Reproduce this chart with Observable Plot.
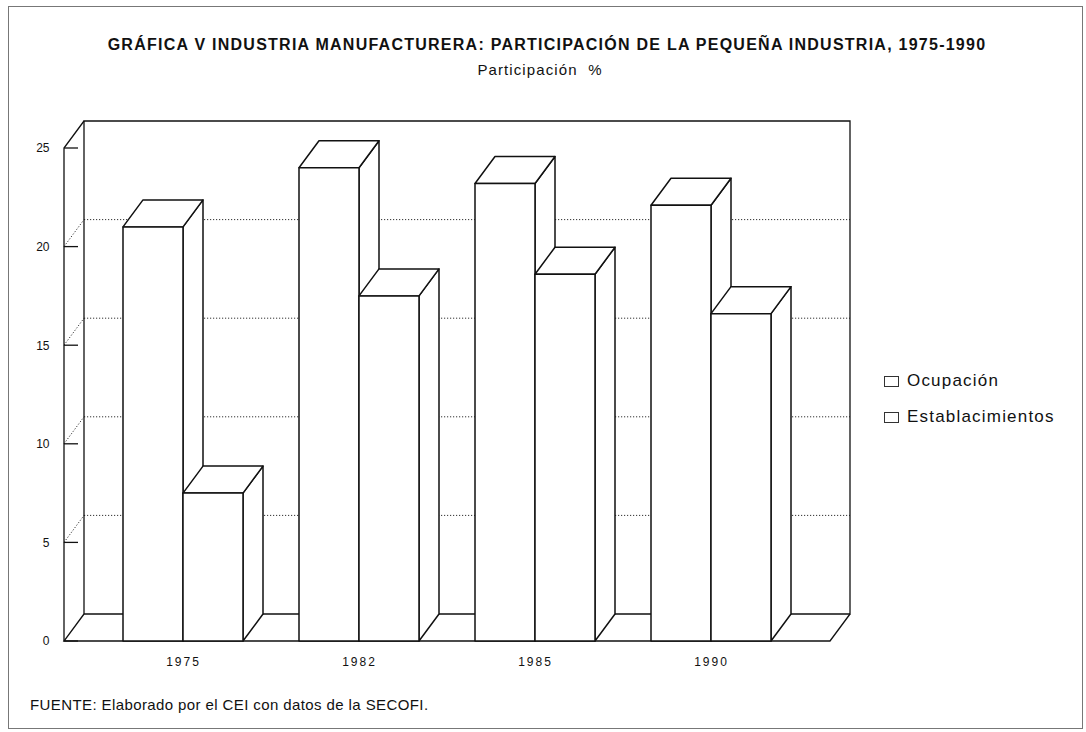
<!DOCTYPE html>
<html><head><meta charset="utf-8">
<script src="https://cdn.jsdelivr.net/npm/d3@7"></script>
<script src="https://cdn.jsdelivr.net/npm/@observablehq/plot@0.6"></script>
<style>
body{margin:0;background:#fff;font-family:"Liberation Sans",Arial,sans-serif;color:#111;}
#page{position:relative;width:1086px;height:732px;overflow:hidden;background:#fff;}
#frame{position:absolute;left:8px;top:6px;width:1075px;height:723px;border:1px solid #777;box-sizing:border-box;}
#title{position:absolute;left:0;width:1094px;top:36px;text-align:center;font-weight:bold;font-size:16px;letter-spacing:1.25px;white-space:nowrap;}
#subtitle{position:absolute;left:0;width:1080px;top:61px;text-align:center;font-size:15px;letter-spacing:1.1px;white-space:pre;}
#chart{position:absolute;left:0;top:95px;}
#chart g[aria-label="x-axis tick label"] text{letter-spacing:2px;}
#legend{position:absolute;left:884px;top:363px;font-size:17px;letter-spacing:1.2px;}
#legend .item{display:flex;align-items:center;height:36px;}
#legend .sw{width:13px;height:9px;border:1px solid #333;margin-right:8px;background:#fff;}
#caption{position:absolute;left:30px;top:696px;font-size:15px;letter-spacing:0.4px;}
</style></head>
<body>
<div id="page">
  <div id="frame"></div>
  <div id="title">GRÁFICA V INDUSTRIA MANUFACTURERA: PARTICIPACIÓN DE LA PEQUEÑA INDUSTRIA, 1975-1990</div>
  <div id="subtitle">Participación  %</div>
  <div id="chart"></div>
  <div id="legend"></div>
  <div id="caption">FUENTE: Elaborado por el CEI con datos de la SECOFI.</div>
</div>
<script>
// ---- data ----
const years = ["1975", "1982", "1985", "1990"];
const seriesNames = ["Ocupación", "Establacimientos"];
const ocupacion = [21.0, 24.0, 23.2, 22.1];
const establecimientos = [7.5, 17.5, 18.6, 16.6];
const yTicks = [0, 5, 10, 15, 20, 25];

// ---- style constants ----
const DX = 20, DY = 27;   // pseudo-3D depth offset in pixels

const rows = years.flatMap((year, i) => [
  {year, series: seriesNames[0], value: ocupacion[i], k: 0},
  {year, series: seriesNames[1], value: establecimientos[i], k: 1}
]);

function bandwidthOf(x) { return typeof x.bandwidth === "function" ? x.bandwidth() : x.bandwidth; }

// walls, floor, gridlines, tick marks
function walls(index, scales, values, dims) {
  const {y} = scales;
  const x0 = dims.marginLeft, x1 = dims.width - dims.marginRight;
  const y0 = y(0), yT = y(d3.max(yTicks));
  const g = d3.create("svg:g").attr("fill", "none").attr("stroke", "#111");
  const dotted = g.append("g").attr("stroke-dasharray", "1.2,1.8").attr("stroke-width", 1).attr("stroke", "#333");
  for (const t of yTicks) {
    if (t === 0 || t === d3.max(yTicks)) continue;
    dotted.append("line").attr("x1", x0).attr("y1", y(t)).attr("x2", x0 + DX).attr("y2", y(t) - DY);
    dotted.append("line").attr("x1", x0 + DX).attr("y1", y(t) - DY).attr("x2", x1 + DX).attr("y2", y(t) - DY);
  }
  const solid = g.append("g").attr("stroke-width", 1.3);
  // back wall
  solid.append("path").attr("d", `M${x0 + DX},${y0 - DY}V${yT - DY}H${x1 + DX}V${y0 - DY}Z`);
  // left front edge + top diagonal
  solid.append("path").attr("d", `M${x0},${y0}V${yT}L${x0 + DX},${yT - DY}`);
  // floor
  solid.append("path").attr("d", `M${x0 + DX},${y0 - DY}L${x0},${y0}H${x1}L${x1 + DX},${y0 - DY}`);
  // tick marks
  for (const t of yTicks) {
    solid.append("line").attr("x1", x0).attr("y1", y(t)).attr("x2", x0 + 14).attr("y2", y(t));
  }
  return g.node();
}

// 3D bars
function bars(index, scales, values, dims) {
  const {x, y} = scales;
  const bw = bandwidthOf(x);
  const y0 = y(0);
  const g = d3.create("svg:g").attr("fill", "#fff").attr("stroke", "#111")
    .attr("stroke-width", 1.5).attr("stroke-linejoin", "round");
  for (const r of rows) {
    const xa = x(r.year) + r.k * bw / 2, xb = xa + bw / 2, yv = y(r.value);
    g.append("path").attr("d", `M${xb},${y0}L${xb + DX},${y0 - DY}L${xb + DX},${yv - DY}L${xb},${yv}Z`);
    g.append("path").attr("d", `M${xa},${yv}L${xb},${yv}L${xb + DX},${yv - DY}L${xa + DX},${yv - DY}Z`);
    g.append("rect").attr("x", xa).attr("y", yv).attr("width", xb - xa).attr("height", y0 - yv);
  }
  return g.node();
}

const chart = Plot.plot({
  width: 870,
  height: 600,
  marginTop: 53,
  marginBottom: 54,
  marginLeft: 64,
  marginRight: 40,
  style: {fontFamily: '"Liberation Sans", Arial, sans-serif', color: "#111", background: "transparent"},
  x: {type: "band", domain: years, paddingInner: 0.32, paddingOuter: 0.33, label: null},
  y: {domain: [0, 25], label: null},
  marks: [
    walls,
    bars,
    Plot.axisY({ticks: yTicks, tickSize: 0, tickPadding: 15, fontSize: 12, label: null}),
    Plot.axisX({tickSize: 0, tickPadding: 16, fontSize: 12, label: null})
  ]
});
document.getElementById("chart").appendChild(chart);

// legend
const legend = d3.select("#legend");
for (const s of seriesNames) {
  const it = legend.append("div").attr("class", "item");
  it.append("div").attr("class", "sw");
  it.append("span").text(s);
}
</script>
</body></html>
